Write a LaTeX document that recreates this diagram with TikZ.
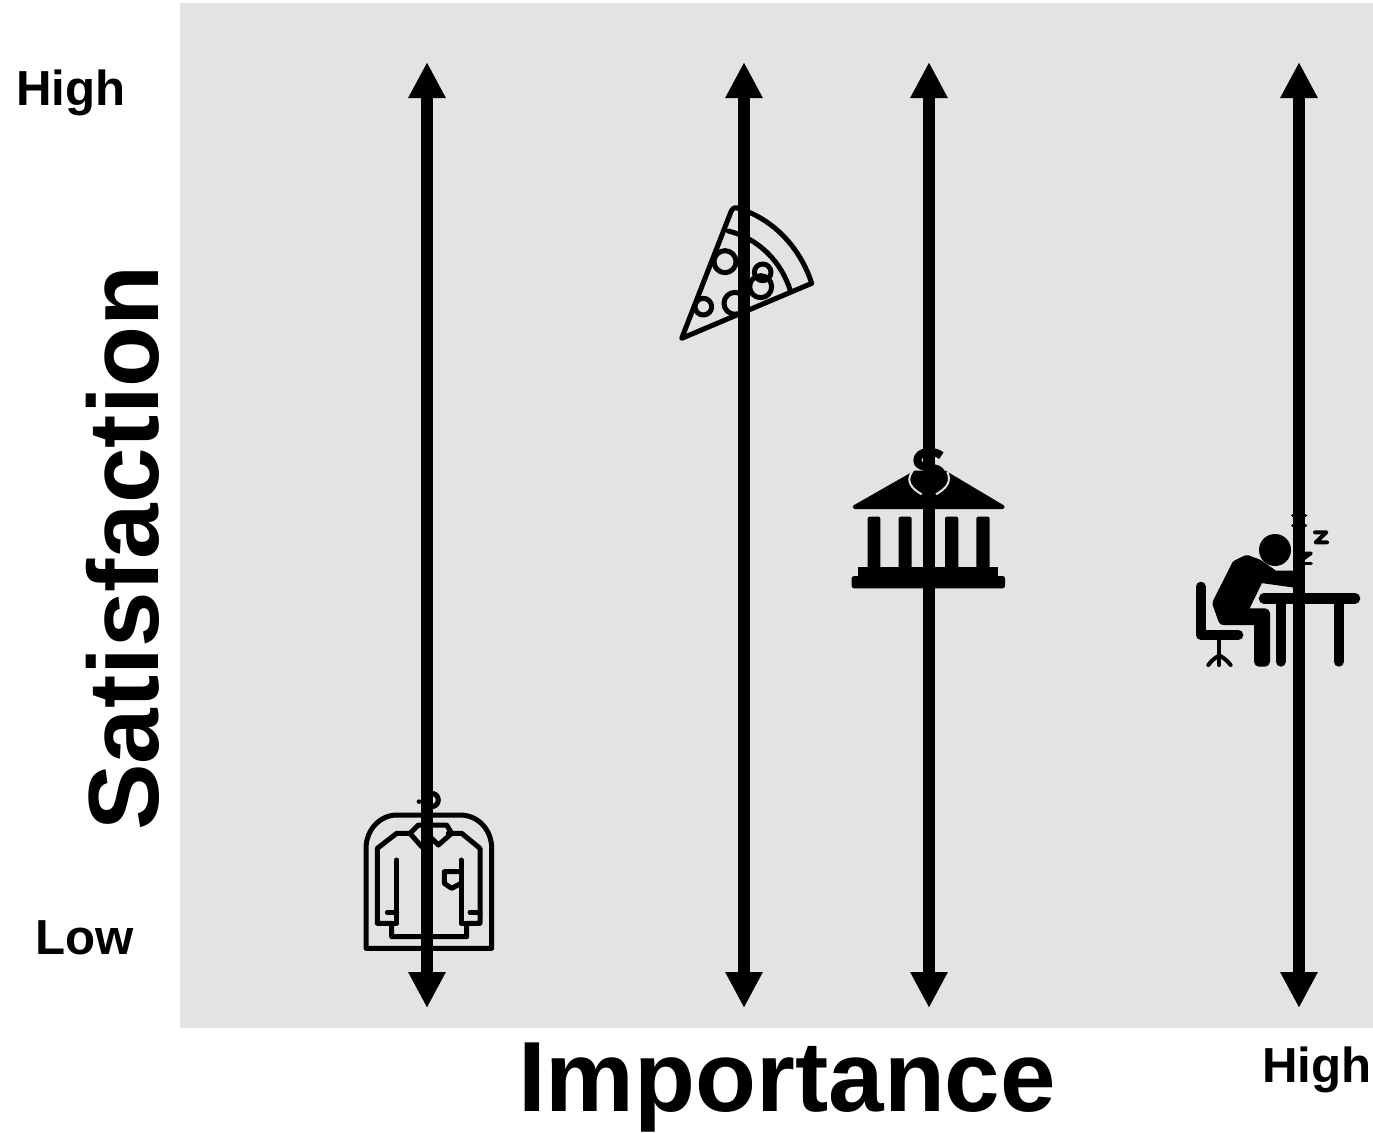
\documentclass[tikz,border=0pt]{standalone}
\usepackage{fontspec}
\setmainfont{Liberation Sans}
\usetikzlibrary{arrows.meta}
\tikzset{
  panel/.style={fill=panelgray,draw=none},
  axisline/.style={line width=6pt,{Triangle[width=17.5pt,length=18pt]}-{Triangle[width=17.5pt,length=18pt]}},
  small label/.style={font=\fontsize{24.6}{26}\selectfont\bfseries,inner sep=0pt,text=black},
  big label/.style={font=\fontsize{49.9}{52}\selectfont\bfseries,inner sep=0pt,text=black},
  zoomed/.style 2 args={shift={(#1,#2)},x=0.16667pt,y=-0.16667pt},
  iconline/.style={line width=2.5pt,line cap=round,line join=round},
}
\definecolor{panelgray}{HTML}{E3E3E3}
\begin{document}
\begin{tikzpicture}[x=0.5pt,y=-0.5pt]
\useasboundingbox[fill=white] (0,0) rectangle (1373,1132);
\fill[panel] (180,3) rectangle (1373,1028);

% jacket
\begin{scope}[zoomed={350}{780},iconline]
  \draw (48,505) -- (48,205) .. controls (48,150) and (90,105) .. (140,105) -- (330,105) .. controls (385,105) and (425,150) .. (425,205) -- (425,505) -- cycle;
  \draw (180,160) -- (140,160) -- (82,205) -- (82,430) -- (125,430) -- (125,470) -- (350,470) -- (350,430) -- (390,430) -- (390,205) -- (335,160) -- (295,160);
  \draw (140,240) -- (140,430) -- (125,430);
  \draw (333,240) -- (333,430) -- (350,430);
  \draw (112,397) -- (140,397);
  \draw (360,397) -- (390,397);
  \draw (180,160) -- (205,135) -- (290,135) -- (305,160);
  \draw (180,160) -- (215,200) -- (240,170);
  \draw (305,160) -- (265,195) -- (240,170);
  \draw (333,275) -- (283,275) -- (283,310) -- (305,325) -- (333,310);
  \draw (245,60) circle (20);
  \fill (207,65) circle (7);
\end{scope}

% pizza
\begin{scope}[zoomed={670}{195},iconline]
  \draw (35,430) -- (183,50) .. controls (187,40) and (195,35) .. (205,40) .. controls (320,75) and (395,170) .. (425,265) -- cycle;
  \draw (175,108) .. controls (265,130) and (335,200) .. (362,290);
  \draw (165,200) circle (33);
  \draw (100,335) circle (25);
  \draw (195,325) circle (33);
  \draw (272,275) circle (33);
  \draw (278,232) circle (25);
\end{scope}

% bank
\begin{scope}[zoomed={840}{440},line cap=round,line join=round]
  \filldraw[line width=2pt] (44,201) -- (225,98) -- (315,98) -- (488,201) -- cycle;
  \draw[panelgray,line width=1pt,line cap=butt] (218,92) .. controls (195,125) and (215,145) .. (245,163);
  \draw[panelgray,line width=1pt,line cap=butt] (322,95) .. controls (335,125) and (320,145) .. (288,163);
  \draw[line width=4pt,line cap=butt] (304,47) .. controls (285,30) and (232,30) .. (232,62) .. controls (232,92) and (303,72) .. (305,104) .. controls (305,140) and (250,140) .. (228,116);
  \fill[rounded corners=1pt] (83,230) rectangle (121,390);
  \fill[rounded corners=1pt] (176,230) rectangle (215,390);
  \fill[rounded corners=1pt] (315,230) rectangle (355,390);
  \fill[rounded corners=1pt] (409,230) rectangle (449,390);
  \fill (55,380) rectangle (475,415);
  \fill[rounded corners=1.2pt] (35,408) rectangle (495,445);
\end{scope}

% sleeper
\begin{scope}[zoomed={1185}{505},line cap=round,line join=round]
  \fill (270,135) circle (48);
  \filldraw[line width=5pt] (97,295) -- (155,180) -- (185,165) -- (220,178) -- (268,212) -- (330,212) -- (330,233) -- (222,218) -- (170,325) -- (240,325) -- (240,470) -- (222,470) -- (222,345) -- (115,345) -- cycle;
  \draw[line width=5pt] (47,245) -- (47,390) -- (160,390);
  \draw[line width=2pt] (103,390) -- (103,480);
  \draw[line width=2pt] (70,480) .. controls (80,465) and (95,455) .. (103,452) .. controls (112,455) and (125,465) .. (137,480);
  \draw[line width=5.3pt] (237,280) -- (510,280);
  \draw[line width=5pt] (287,280) -- (287,470);
  \draw[line width=5pt] (461,280) -- (461,470);
  \draw[line width=2pt] (390,82) -- (424,82) -- (392,112) -- (426,112);
  \draw[line width=1.8pt] (340,145) -- (378,145) -- (350,165);
  \draw[line width=1.8pt] (345,175) -- (378,175);
  \draw[line width=1.6pt] (323,32) -- (362,32);
  \draw[line width=1.6pt] (323,62) -- (362,62);
\end{scope}

% vertical arrows
\coordinate (a1t) at (427,62);  \coordinate (a1b) at (427,1008);
\coordinate (a2t) at (744,62);  \coordinate (a2b) at (744,1008);
\coordinate (a3t) at (929,62);  \coordinate (a3b) at (929,1008);
\coordinate (a4t) at (1299,62); \coordinate (a4b) at (1299,1008);
\draw[axisline] (a1t) -- (a1b);
\draw[axisline] (a2t) -- (a2b);
\draw[axisline] (a3t) -- (a3b);
\draw[axisline] (a4t) -- (a4b);

% labels
\node[small label] (highy) at (71,93) {High};
\node[small label] (lowy) at (85,938) {Low};
\node[small label] (highx) at (1317,1070) {High};
\node[big label,rotate=90] (sat) at (122.5,548) {Satisfaction};
\node[big label] (imp) at (787,1088) {Importance};
\end{tikzpicture}
\end{document}
